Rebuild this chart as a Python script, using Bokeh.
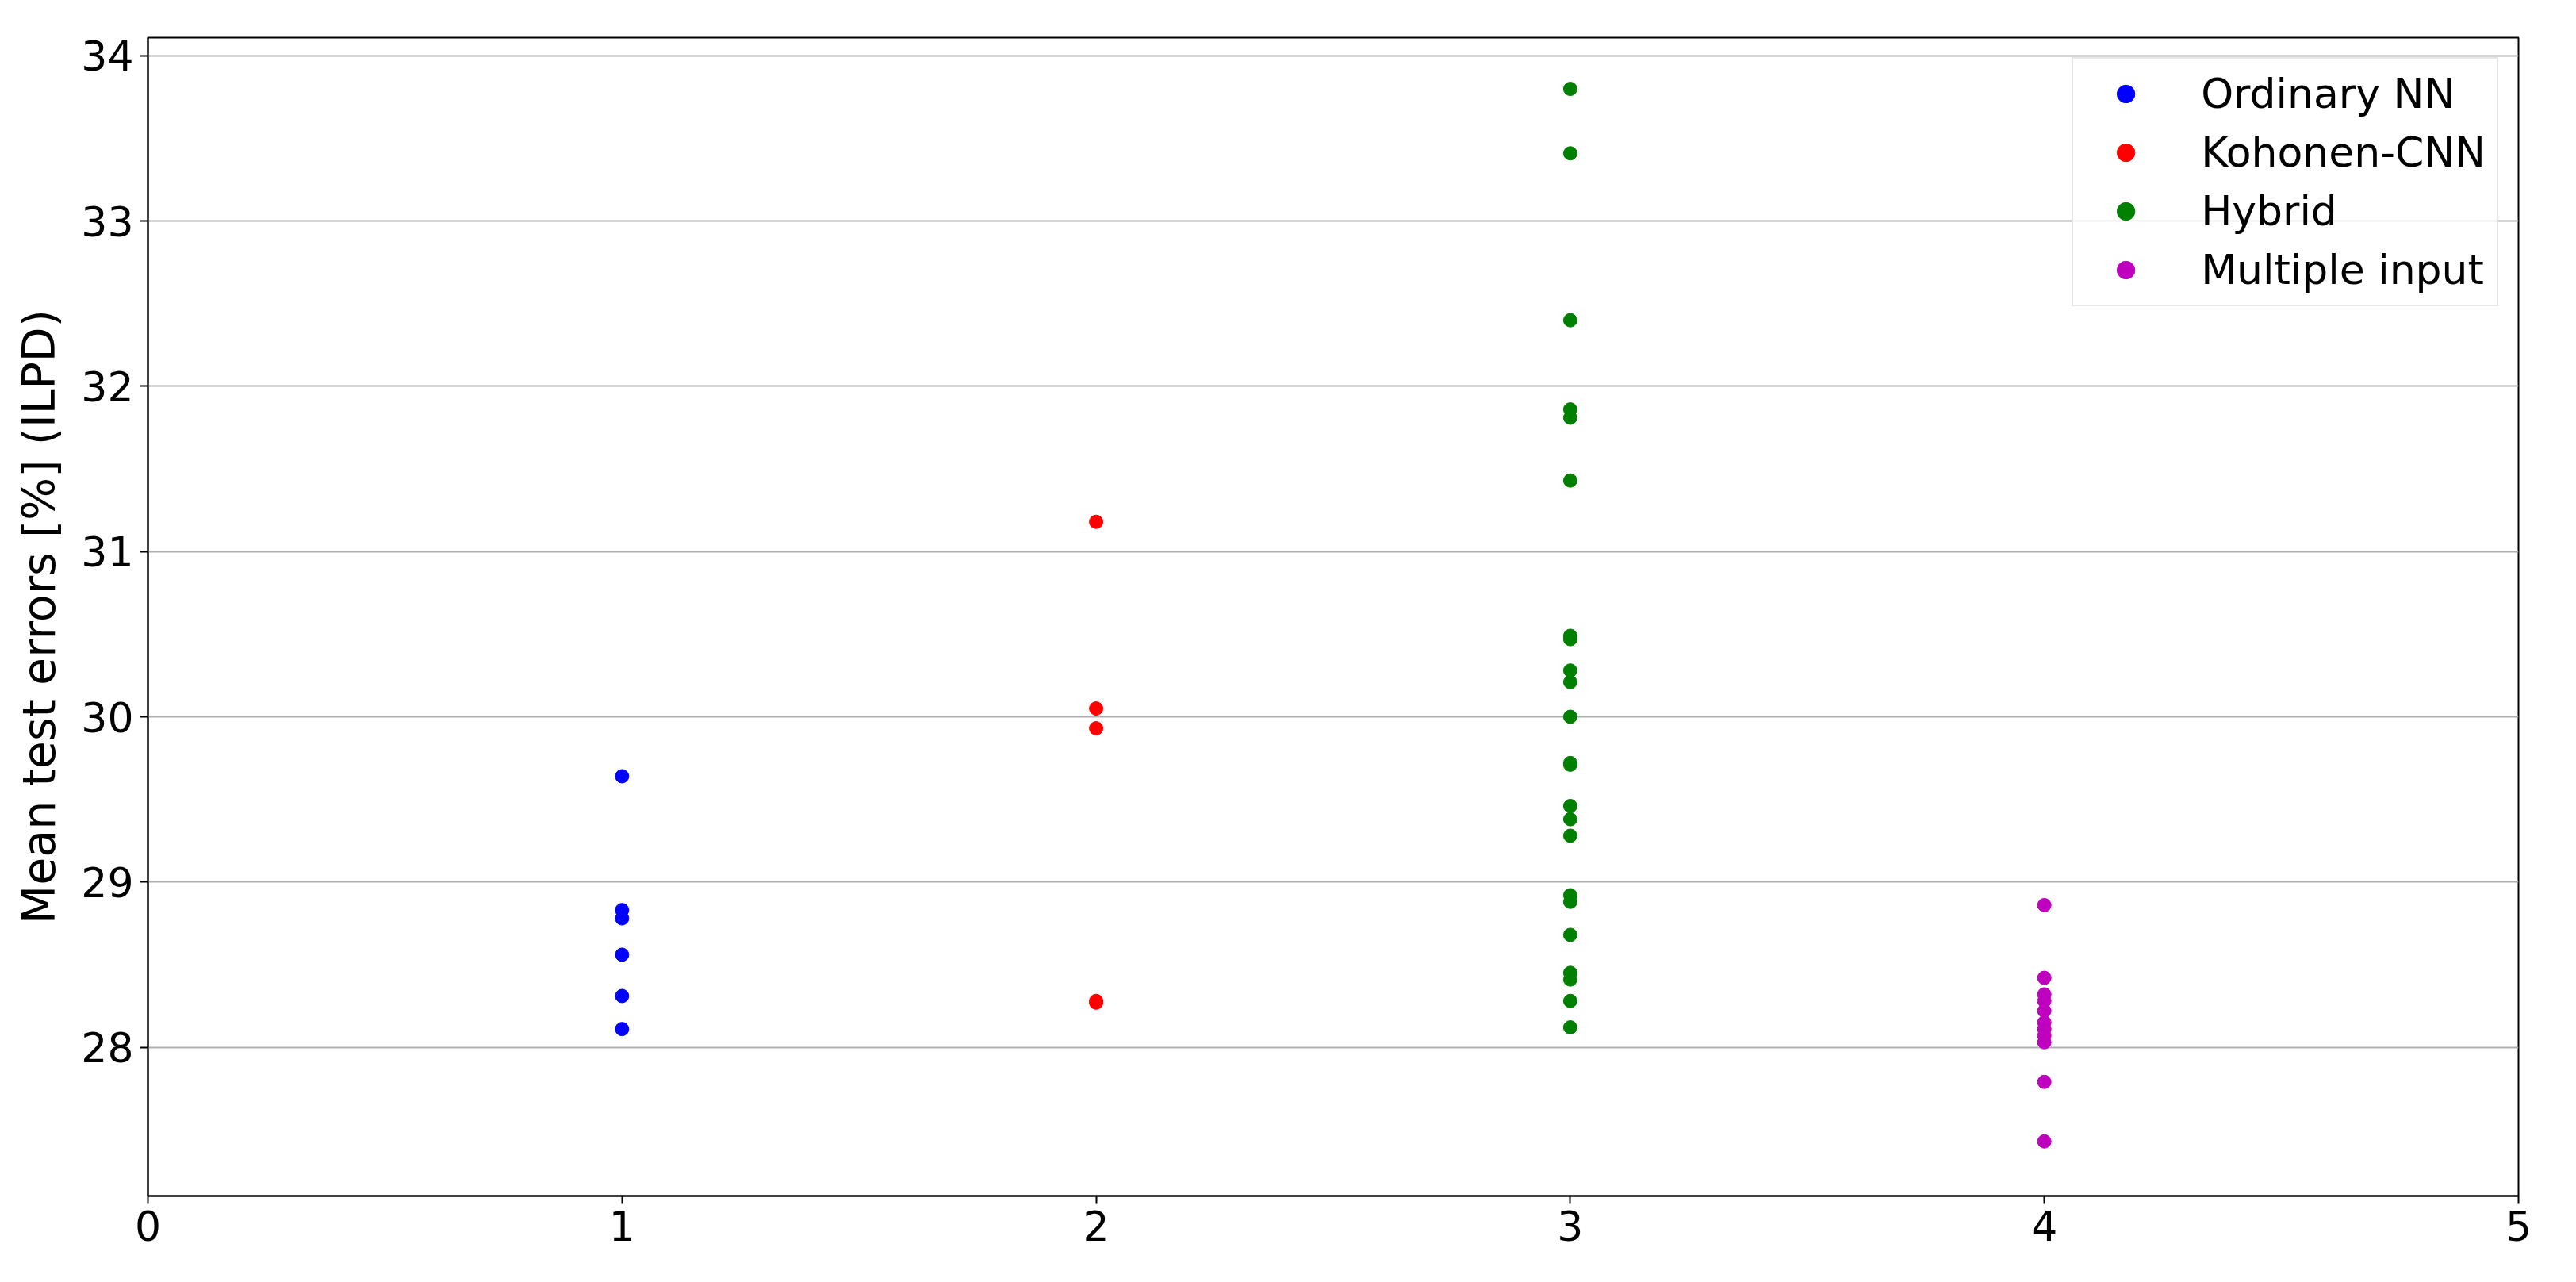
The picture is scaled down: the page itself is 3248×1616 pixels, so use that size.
from bokeh.plotting import figure
from bokeh.models import FixedTicker, Range1d
from bokeh.embed import file_html
from bokeh.resources import INLINE

# Data
series_names = ["Ordinary NN", "Kohonen-CNN", "Hybrid", "Multiple input"]
series_x = [1, 2, 3, 4]
ordinary_nn = [29.64, 28.83, 28.78, 28.56, 28.31, 28.11]
kohonen_cnn = [31.18, 30.05, 29.93, 28.28, 28.27]
hybrid = [33.80, 33.41, 32.40, 31.86, 31.81, 31.43, 30.49, 30.47, 30.28, 30.21,
          30.00, 29.72, 29.71, 29.46, 29.38, 29.28, 28.92, 28.88, 28.68, 28.45,
          28.41, 28.28, 28.12]
multiple_input = [28.86, 28.42, 28.32, 28.28, 28.22, 28.15, 28.11, 28.07, 28.03,
                  27.79, 27.43]
series_values = [ordinary_nn, kohonen_cnn, hybrid, multiple_input]
series_colors = ["#0000ff", "#ff0000", "#008000", "#bf00bf"]
x_ticks = [0, 1, 2, 3, 4, 5]
y_ticks = [28, 29, 30, 31, 32, 33, 34]
y_label = "Mean test errors [%] (ILPD)"

FONT = "DejaVu Sans"

p = figure(width=3232, height=1600, output_backend="svg", toolbar_location=None,
           x_range=Range1d(0, 5), y_range=Range1d(27.10, 34.11),
           min_border_left=186, min_border_right=57, min_border_top=47,
           min_border_bottom=93)

for name, xv, vals, col in zip(series_names, series_x, series_values, series_colors):
    p.scatter([xv] * len(vals), vals, size=17, color=col, line_color=col,
              legend_label=name)

p.background_fill_color = "white"
p.border_fill_color = "white"
p.outline_line_color = "black"
p.outline_line_width = 2

p.xgrid.visible = False
p.ygrid.grid_line_color = "#b0b0b0"
p.ygrid.grid_line_width = 2

p.xaxis.ticker = FixedTicker(ticks=x_ticks)
p.yaxis.ticker = FixedTicker(ticks=y_ticks)

for ax in (p.xaxis, p.yaxis):
    ax.axis_line_color = "black"
    ax.axis_line_width = 2
    ax.major_tick_line_color = "black"
    ax.major_tick_line_width = 2
    ax.major_tick_out = 10
    ax.major_tick_in = 0
    ax.minor_tick_line_color = None
    ax.major_label_text_font = FONT
    ax.major_label_text_font_size = "52px"
    ax.major_label_text_color = "black"
    ax.major_label_standoff = 8

p.yaxis.axis_label = y_label
p.yaxis.axis_label_text_font = FONT
p.yaxis.axis_label_text_font_size = "57px"
p.yaxis.axis_label_text_font_style = "normal"
p.yaxis.axis_label_text_color = "black"
p.yaxis.axis_label_standoff = 17

lg = p.legend[0]
lg.location = "top_right"
lg.margin = 25
lg.padding = 14
lg.spacing = 14
lg.glyph_width = 104
lg.glyph_height = 56
lg.label_height = 56
lg.label_standoff = 43
lg.label_text_font = FONT
lg.label_text_font_size = "52px"
lg.label_text_color = "black"
lg.border_line_color = "#cccccc"
lg.border_line_width = 2
lg.background_fill_color = "white"
lg.background_fill_alpha = 0.8

open("out.html", "w").write(file_html(p, INLINE))
